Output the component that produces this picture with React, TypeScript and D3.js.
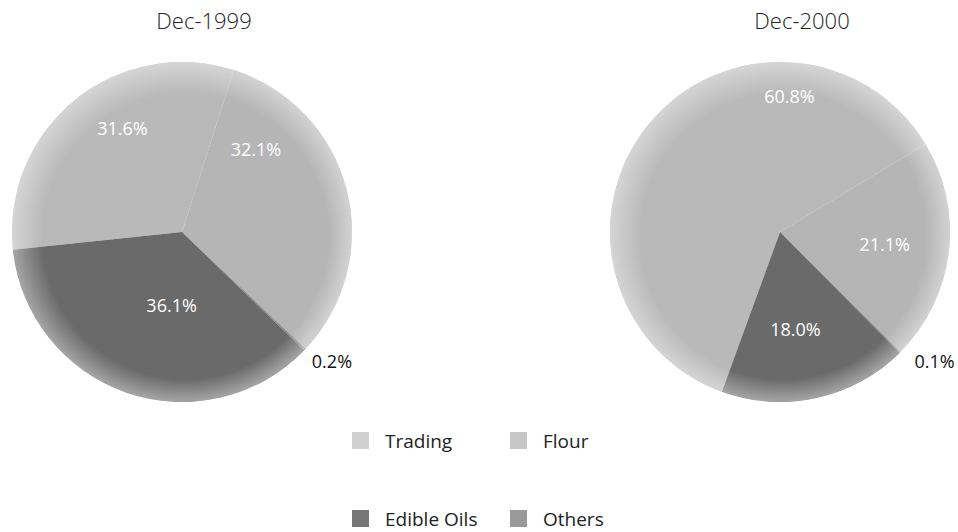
import React from "react";
import * as d3 from "d3";

const categories = ["Trading", "Flour", "Edible Oils", "Others"];
const years = ["Dec-1999", "Dec-2000"];
const values1999 = [31.6, 32.1, 36.1, 0.2];
const values2000 = [60.8, 21.1, 18.0, 0.1];
const labels1999 = ["31.6%", "32.1%", "36.1%", "0.2%"];
const labels2000 = ["60.8%", "21.1%", "18.0%", "0.1%"];

// slice order clockwise as drawn (indices into categories), and starting angle (deg)
const order1999 = [0, 1, 3, 2];
const order2000 = [0, 1, 3, 2];
const start1999 = -96;
const start2000 = -160;

const colors = ["#b9b9b9", "#b5b5b5", "#6a6a6a", "#8c8c8c"];
const legendColors = ["#d0d0d0", "#c6c6c6", "#777777", "#999999"];

// label placement (angle deg clockwise from top, radius fraction), presentation only
const labelPlace1999 = [
  { a: 330, r: 0.7 },
  { a: 42, r: 0.65 },
  { a: 188, r: 0.44 },
  { a: 135, r: 1.08, outside: true },
];
const labelPlace2000 = [
  { a: 4, r: 0.8 },
  { a: 97, r: 0.62 },
  { a: 171, r: 0.58 },
  { a: 134, r: 1.1, outside: true },
];

const W = 958;
const H = 532;
const R = 170;

function Pie({ cx, cy, values, labels, order, start, place, title, id }: any) {
  const data = order.map((i: number) => ({ i, v: values[i] }));
  const pie = d3
    .pie<any>()
    .value((d: any) => d.v)
    .sort(null)
    .startAngle((start * Math.PI) / 180)
    .endAngle(((start + 360) * Math.PI) / 180);
  const arcs = pie(data);
  const arc = d3.arc<any>().innerRadius(0).outerRadius(R);
  return (
    <g transform={`translate(${cx},${cy})`}>
      <text x={22} y={-203} textAnchor="middle" fontFamily="'Open Sans', sans-serif" fontWeight={300} fontSize={22} fill="#222">
        {title}
      </text>
      {arcs.map((a: any) => (
        <path key={a.data.i} d={arc(a) || ""} fill={colors[a.data.i]} />
      ))}
      <circle r={R} fill={`url(#rim-${id})`} />
      {categories.map((c, i) => {
        const p = place[i];
        const ang = (p.a * Math.PI) / 180;
        const x = Math.sin(ang) * p.r * R;
        const y = -Math.cos(ang) * p.r * R;
        return (
          <text
            key={c}
            x={x}
            y={y}
            dy="0.35em"
            textAnchor={p.outside ? "start" : "middle"}
            fontFamily="'Open Sans', sans-serif"
            fontSize={18}
            fill={p.outside ? "#111" : "#fff"}
          >
            {labels[i]}
          </text>
        );
      })}
    </g>
  );
}

export default function App() {
  const legendX = d3.scalePoint<number>().domain([0, 1]).range([352, 510]);
  return (
    <svg width={W} height={H} style={{ position: "absolute", left: 0, top: 0, background: "#fff" }}>
      <defs>
        {["a", "b"].map((id) => (
          <radialGradient key={id} id={`rim-${id}`} cx="0.5" cy="0.5" r="0.5" fx="0.56" fy="0.58">
            <stop offset="0.84" stopColor="#fff" stopOpacity={0} />
            <stop offset="0.93" stopColor="#fff" stopOpacity={0.22} />
            <stop offset="1" stopColor="#fff" stopOpacity={0.4} />
          </radialGradient>
        ))}
      </defs>
      <rect width={W} height={H} fill="#fff" />
      <Pie cx={182} cy={232} values={values1999} labels={labels1999} order={order1999} start={start1999} place={labelPlace1999} title={years[0]} id="a" />
      <Pie cx={780} cy={232} values={values2000} labels={labels2000} order={order2000} start={start2000} place={labelPlace2000} title={years[1]} id="b" />
      {categories.map((c, i) => {
        const col = i % 2;
        const row = Math.floor(i / 2);
        const x = legendX(col) as number;
        const y = 441 + row * 78;
        return (
          <g key={c}>
            <rect x={x} y={y - 9} width={17} height={17} fill={legendColors[i]} />
            <text x={x + 33} y={y} dy="0.35em" fontFamily="'Open Sans', sans-serif" fontSize={19} fill="#222">
              {c}
            </text>
          </g>
        );
      })}
    </svg>
  );
}
